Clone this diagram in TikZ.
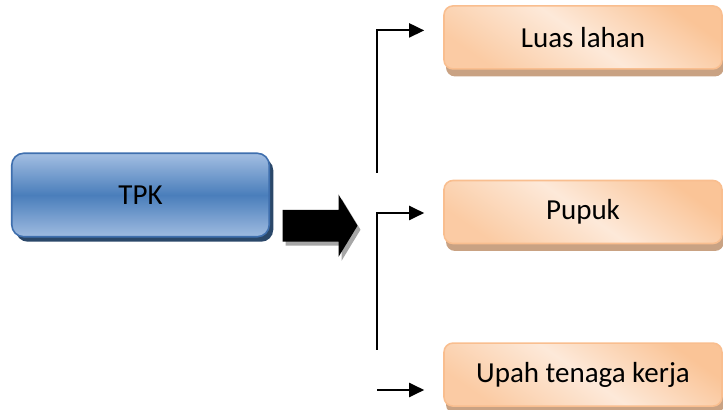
\documentclass[tikz,border=0pt]{standalone}
\usepackage{fontspec}
\setmainfont{Carlito}
\usetikzlibrary{arrows.meta, positioning, shadows}

\definecolor{tpktop}{HTML}{A3BEE2}
\definecolor{tpkmid}{HTML}{4A7EBB}
\definecolor{tpkline}{HTML}{3F6FAE}
\definecolor{tpkshadow}{HTML}{2A4769}
\definecolor{leafedge}{HTML}{F9BE8F}
\definecolor{leaflight}{HTML}{FDE9D9}
\definecolor{leafdark}{HTML}{FAC497}
\definecolor{leafshadow}{HTML}{C9A283}

\begin{document}
\begin{tikzpicture}[
  srcbox/.style={
    draw=tpkline,
    line width=0.9pt,
    rounded corners=0.24cm,
    top color=tpktop,
    bottom color=tpktop!95!tpkmid,
    middle color=tpkmid,
    minimum width=5.15cm,
    minimum height=1.67cm,
    font=\fontsize{16.5}{20}\selectfont,
    drop shadow={shadow xshift=0.08cm, shadow yshift=-0.1cm,
      fill=tpkshadow, opacity=1}
  },
  leafbox/.style={
    draw=leafedge,
    line width=0.9pt,
    rounded corners=0.18cm,
    top color=leafdark,
    bottom color=leafdark!80!leaflight,
    middle color=leaflight,
    shading angle=-35,
    minimum width=5.56cm,
    minimum height=1.26cm,
    font=\fontsize{16.5}{20}\selectfont,
    drop shadow={shadow xshift=0.04cm, shadow yshift=-0.15cm,
      fill=leafshadow, opacity=1}
  },
  bigarrow/.style={
    fill=black,
    drop shadow={shadow xshift=0.06cm, shadow yshift=-0.08cm,
      fill=black!35, opacity=1}
  },
  link/.style={-{Triangle[length=0.3cm, width=0.28cm]}, line width=1.1pt,
    shorten >=0.38cm}
]
\useasboundingbox (0,0) rectangle (14.46,8.2);

% Source box
\node[srcbox] (tpk) at (2.81,4.30) {TPK};

% Block arrow
\coordinate (flow) at (5.65,3.686);
\fill[bigarrow] (flow) ++(0,0.317) -- ++(1.12,0) -- ++(0,0.307)
  -- ++(0.38,-0.624) -- ++(-0.38,-0.624) -- ++(0,0.307)
  -- ++(-1.12,0) -- cycle;

% Input boxes
\node[leafbox] (pupuk) at (11.66,3.96) {Pupuk};
\node[leafbox, above=2.2cm of pupuk] (luas) {Luas lahan};
\node[leafbox, below=1.96cm of pupuk] (upah) {Upah tenaga kerja};

% Fan-out lines
\coordinate (fork1) at (7.54,4.74);
\coordinate (fork2) at (7.54,1.20);
\coordinate (tail3) at (7.54,0.40);

\draw[link] (fork1) |- ([yshift=0.14cm]luas.west);
\draw[link] (fork2) |- ([yshift=-0.02cm]pupuk.west);
\draw[link] (tail3) -- (tail3 -| upah.west);

\end{tikzpicture}
\end{document}
